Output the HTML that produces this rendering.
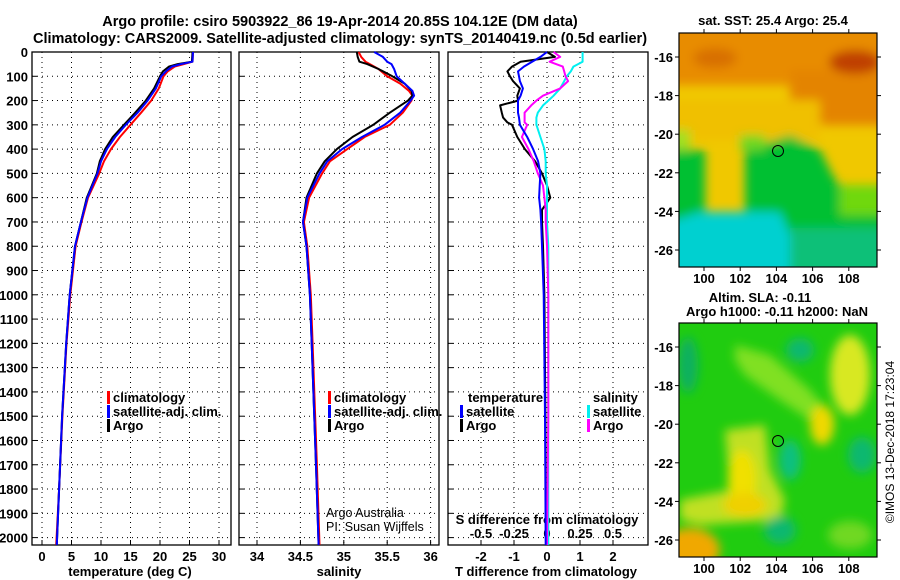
<!DOCTYPE html>
<html><head><meta charset="utf-8"><style>
html,body{margin:0;padding:0;background:#fff}
svg{display:block;font-family:"Liberation Sans",sans-serif}
.b{font-weight:bold;font-size:13px}
.t{font-weight:bold;font-size:14.5px}
</style></head><body>
<svg id="c" width="900" height="580" viewBox="0 0 900 580" xmlns="http://www.w3.org/2000/svg">
<defs>
<filter id="bl" x="-20%" y="-20%" width="140%" height="140%"><feGaussianBlur stdDeviation="5"/></filter>
<clipPath id="m1"><rect x="679" y="33" width="198" height="234"/></clipPath>
<clipPath id="m2"><rect x="679" y="323" width="198" height="234"/></clipPath>
</defs>
<text class="t" x="340" y="26" text-anchor="middle">Argo profile: csiro 5903922_86 19-Apr-2014 20.85S 104.12E (DM data)</text>
<text class="t" x="340" y="43" text-anchor="middle">Climatology: CARS2009. Satellite-adjusted climatology: synTS_20140419.nc (0.5d earlier)</text>

<!-- map 1 -->
<g clip-path="url(#m1)">
<rect x="679" y="33" width="198" height="234" fill="#f0c800"/>
<g filter="url(#bl)">
<rect x="660" y="20" width="240" height="65" fill="#e88c00"/>
<rect x="790" y="70" width="110" height="55" fill="#e48400"/>
<ellipse cx="855" cy="62" rx="26" ry="12" fill="#c04000"/>
<ellipse cx="715" cy="58" rx="22" ry="10" fill="#d87000"/>
<rect x="670" y="100" width="150" height="40" fill="#f0c000"/>
<rect x="660" y="130" width="30" height="40" fill="#a0e020"/>
<rect x="660" y="150" width="45" height="130" fill="#00c030"/>
<path d="M745 150 L790 135 L820 150 L835 180 L860 200 L900 210 L900 280 L660 280 L660 220 L745 215 Z" fill="#00c030"/>
<rect x="840" y="185" width="60" height="30" fill="#70d810"/>
<rect x="790" y="228" width="110" height="50" fill="#10c078"/>
<path d="M660 225 L700 212 L780 212 L790 235 L790 280 L660 280 Z" fill="#00d0d0"/>
<rect x="740" y="135" width="25" height="15" fill="#70d820"/>
</g>
</g>
<rect x="679" y="33" width="198" height="234" fill="none" stroke="#000" stroke-width="1.2"/>
<circle cx="778" cy="151" r="5.5" fill="none" stroke="#000"/>
<text class="b" x="773" y="25" text-anchor="middle">sat. SST: 25.4 Argo: 25.4</text>

<!-- map 2 -->
<g clip-path="url(#m2)">
<rect x="679" y="323" width="198" height="234" fill="#20cc10"/>
<g filter="url(#bl)">
<path d="M735 345 L770 355 L810 390 L835 420 L830 440 L810 420 L780 400 L745 375 L735 360 Z" fill="#80e020"/>
<ellipse cx="850" cy="375" rx="20" ry="40" fill="#d8e820"/>
<ellipse cx="822" cy="425" rx="12" ry="20" fill="#f0d800"/>
<path d="M725 430 L765 425 L770 470 L785 500 L780 520 L700 525 L680 520 L680 500 L730 490 Z" fill="#c0e020"/>
<ellipse cx="742" cy="480" rx="14" ry="30" fill="#f0e000"/>
<ellipse cx="745" cy="505" rx="22" ry="12" fill="#f0d000"/>
<ellipse cx="690" cy="550" rx="30" ry="22" fill="#f0a800"/>
<ellipse cx="790" cy="460" rx="11" ry="20" fill="#10c080"/>
<ellipse cx="862" cy="455" rx="14" ry="18" fill="#10b870"/>
<ellipse cx="800" cy="350" rx="14" ry="12" fill="#10b870"/>
<ellipse cx="780" cy="530" rx="16" ry="14" fill="#10b870"/>
<ellipse cx="688" cy="365" rx="10" ry="28" fill="#10b060"/>
<ellipse cx="850" cy="535" rx="22" ry="14" fill="#70d820"/>
</g>
</g>
<rect x="679" y="323" width="198" height="234" fill="none" stroke="#000" stroke-width="1.2"/>
<circle cx="778" cy="441" r="5.5" fill="none" stroke="#000"/>
<text class="b" x="760" y="302" text-anchor="middle">Altim. SLA: -0.11</text>
<text class="b" x="777" y="316" text-anchor="middle">Argo h1000: -0.11 h2000: NaN</text>
<text x="894" y="442" font-size="12" text-anchor="middle" transform="rotate(-90 894 442)">©IMOS 13-Dec-2018 17:23:04</text>
</svg>
<script>
// ---------- data ----------
const tDepth=[0,40,50,60,80,100,150,200,250,300,350,400,450,500,600,700,800,1000,1200,1500,1800,2030];
const tArgo=[25.5,25.4,23,21.5,20.5,20,19,17.6,15.8,13.9,12,10.7,9.8,9.3,7.6,6.6,5.6,4.7,4.1,3.4,2.9,2.5];
const tClim=[25.6,25.5,24,22.5,21.3,20.6,19.8,18.5,16.8,15,13.2,11.7,10.5,9.7,7.8,6.7,5.7,4.8,4.15,3.45,2.9,2.4];
const tSat=[25.6,25.5,23.5,22,21,20.2,19.3,17.9,16.2,14.2,12.4,11,10,9.4,7.7,6.6,5.6,4.7,4.1,3.4,2.9,2.5];
const sDepth=[0,20,40,50,70,100,130,160,180,200,250,300,350,400,450,500,600,700,800,1000,1200,1400,1700,2030];
const sArgo=[35.15,35.16,35.18,35.27,35.4,35.56,35.7,35.78,35.79,35.74,35.53,35.34,35.1,34.92,34.78,34.69,34.57,34.53,34.57,34.61,34.63,34.65,34.68,34.71];
const sClim=[35.17,35.2,35.25,35.3,35.4,35.5,35.65,35.75,35.79,35.78,35.68,35.53,35.24,35.04,34.84,34.75,34.6,34.54,34.58,34.62,34.64,34.66,34.69,34.72];
const sSat=[35.35,35.45,35.5,35.55,35.58,35.61,35.7,35.79,35.81,35.77,35.65,35.47,35.21,34.98,34.81,34.72,34.58,34.53,34.57,34.61,34.63,34.65,34.68,34.71];
const dDepth=[0,20,40,60,80,100,120,150,180,200,220,250,270,290,300,350,400,450,500,550,600,650,700,800,1000,1500,2030];
const dTArgo=[0,0.24,-0.8,-1.06,-1.2,-1.12,-1.03,-0.82,-0.9,-0.88,-1.42,-1.37,-1.33,-1.2,-1.06,-0.9,-0.67,-0.36,-0.15,0,0.1,-0.15,-0.15,-0.12,-0.08,-0.05,-0.03];
const dTSat=[0,-0.2,-0.45,-0.7,-0.88,-0.85,-0.82,-0.73,-0.8,-0.88,-0.88,-0.88,-0.85,-0.83,-0.82,-0.6,-0.42,-0.27,-0.2,-0.22,-0.24,-0.2,-0.18,-0.15,-0.1,-0.06,-0.04];
const dSArgo=[0.05,0.1,0.02,0.12,0.13,0.14,0.16,0.1,-0.03,-0.08,-0.12,-0.17,-0.17,-0.17,-0.15,-0.19,-0.14,-0.1,-0.07,-0.03,-0.02,-0.01,-0.01,0,0.01,0.01,0];
const dSSat=[0.27,0.27,0.27,0.2,0.18,0.15,0.13,0.1,0.05,0.01,-0.03,-0.07,-0.08,-0.08,-0.08,-0.05,-0.02,-0.01,-0.01,0,0,0,0,0.01,0.01,0.01,0.01];
const depthTicks=[0,100,200,300,400,500,600,700,800,900,1000,1100,1200,1300,1400,1500,1600,1700,1800,1900,2000];
const tTicks=[0,5,10,15,20,25,30];
const sTicks=[34,34.5,35,35.5,36];
const dtTicks=[-2,-1,0,1,2];
const dsTicks=[-0.5,-0.25,0,0.25,0.5];
const lonTicks=[100,102,104,106,108];
const latTicks=[-16,-18,-20,-22,-24,-26];

const NS='http://www.w3.org/2000/svg';
const svg=document.getElementById('c');
function el(tag,attrs,txt){const e=document.createElementNS(NS,tag);for(const k in attrs)e.setAttribute(k,attrs[k]);if(txt!==undefined)e.textContent=txt;svg.appendChild(e);return e;}
const Y=d=>52+d*0.2428;
const xT=v=>42+v*5.9;
const xS=v=>257+(v-34)*86.8;
const xDT=v=>547+v*33;
const xDS=v=>547+v*132;
const lonX=v=>704+(v-100)*18.1;
const latY=v=>57+(-16-v)*19.3;

const panels=[{x0:32,x1:231,name:'temperature-panel'},{x0:239,x1:439,name:'salinity-panel'},{x0:448,x1:648,name:'difference-panel'}];
const grids=[tTicks.map(xT),sTicks.map(xS),dtTicks.map(xDT)];
panels.forEach((p,i)=>{
  grids[i].forEach(gx=>{
    const g=el('line',{x1:gx,x2:gx,y1:52,y2:545,stroke:'#000','stroke-width':1,'stroke-dasharray':'1 4'});
    
    
    const tk=el('line',{x1:gx,x2:gx,y1:545,y2:540,stroke:'#000'});
    
    
  });
  depthTicks.forEach(d=>{
    const g=el('line',{x1:p.x0,x2:p.x1,y1:Y(d),y2:Y(d),stroke:'#000','stroke-width':1,'stroke-dasharray':'1 4'});
    
    
    const tk=el('line',{x1:p.x0,x2:p.x0+5,y1:Y(d),y2:Y(d),stroke:'#000'});
    
    
  });
  const r=el('rect',{x:p.x0,y:52,width:p.x1-p.x0,height:493,fill:'none',stroke:'#000','stroke-width':1.3});
  
  
});
depthTicks.forEach(d=>{
  const t=el('text',{x:28,y:Y(d)+5,'text-anchor':'end',class:'b'},String(d));
  
  
});
tTicks.forEach(v=>{const t=el('text',{x:xT(v),y:561,'text-anchor':'middle',class:'b'},String(v));
  });
sTicks.forEach(v=>{const t=el('text',{x:xS(v),y:561,'text-anchor':'middle',class:'b'},String(v));
  });
dtTicks.forEach(v=>{const t=el('text',{x:xDT(v),y:561,'text-anchor':'middle',class:'b'},String(v));
  });
dsTicks.forEach(v=>{const t=el('text',{x:xDS(v),y:538,'text-anchor':'middle',class:'b'},String(v));
  });
[[130,'temperature (deg C)','temperature-axis-title'],[339,'salinity','salinity-axis-title'],[546,'T difference from climatology','t-diff-axis-title']].forEach(a=>{
  const t=el('text',{x:a[0],y:576,'text-anchor':'middle',class:'b'},a[1]);
  });
{const t=el('text',{x:547,y:524,'text-anchor':'middle',class:'b'},'S difference from climatology');
 }

function line(xs,ds,fx,color,name,w){
  const pts=xs.map((v,i)=>fx(v).toFixed(1)+','+Y(ds[i]).toFixed(1)).join(' ');
  const l=el('polyline',{points:pts,fill:'none',stroke:color,'stroke-width':w||2,'stroke-linejoin':'round'});
  
  
}
line(tClim,tDepth,xT,'#f00','temperature-climatology-line');
line(tArgo,tDepth,xT,'#000','temperature-argo-line');
line(tSat,tDepth,xT,'#00f','temperature-satellite-line');
line(sClim,sDepth,xS,'#f00','salinity-climatology-line');
line(sArgo,sDepth,xS,'#000','salinity-argo-line');
line(sSat,sDepth,xS,'#00f','salinity-satellite-line');
line(dTArgo,dDepth,xDT,'#000','t-diff-argo-line');
line(dSSat,dDepth,xDS,'#00f0f0','s-diff-satellite-line');
line(dSArgo,dDepth,xDS,'#f0f','s-diff-argo-line');
line(dTSat,dDepth,xDT,'#00f','t-diff-satellite-line');

function legend(x,y,color,label,name){
  const b=el('rect',{x:x,y:y-11,width:3,height:13,fill:color});
  
  const t=el('text',{x:x+6,y:y,class:'b'},label);
  
}
legend(107,402,'#f00','climatology','legend-climatology');
legend(107,416,'#00f','satellite-adj. clim.','legend-satellite-adj');
legend(107,430,'#000','Argo','legend-argo');
legend(328,402,'#f00','climatology','legend-s-climatology');
legend(328,416,'#00f','satellite-adj. clim.','legend-s-satellite-adj');
legend(328,430,'#000','Argo','legend-s-argo');
{const t=el('text',{x:468,y:402,class:'b'},'temperature');}
{const t=el('text',{x:593,y:402,class:'b'},'salinity');}
legend(460,416,'#00f','satellite','legend-t-satellite');
legend(460,430,'#000','Argo','legend-t-argo');
legend(587,416,'#00f0f0','satellite','legend-s-satellite');
legend(587,430,'#f0f','Argo','legend-s-argo-diff');
{const t=el('text',{x:326,y:517,'font-size':'12.5'},'Argo Australia');}
{const t=el('text',{x:326,y:531,'font-size':'12.5'},'PI: Susan Wijffels');}

// map axes
[[267,283],[557,573]].forEach(m=>{
  lonTicks.forEach(v=>{
    const t=el('text',{x:lonX(v),y:m[1],'text-anchor':'middle',class:'b'},String(v));
    
    const a=el('line',{x1:lonX(v),x2:lonX(v),y1:m[0],y2:m[0]+4,stroke:'#000'});
    
    const b=el('line',{x1:lonX(v),x2:lonX(v),y1:m[0]-234,y2:m[0]-238,stroke:'#000'});
    
  });
});
[0,290].forEach(off=>{
  latTicks.forEach(v=>{
    const y=latY(v)+off;
    const t=el('text',{x:673,y:y+5,'text-anchor':'end',class:'b'},String(v));
    
    const a=el('line',{x1:877,x2:881,y1:y,y2:y,stroke:'#000'});
    
    const b=el('line',{x1:675,x2:679,y1:y,y2:y,stroke:'#000'});
    
  });
});
</script>
</body></html>
